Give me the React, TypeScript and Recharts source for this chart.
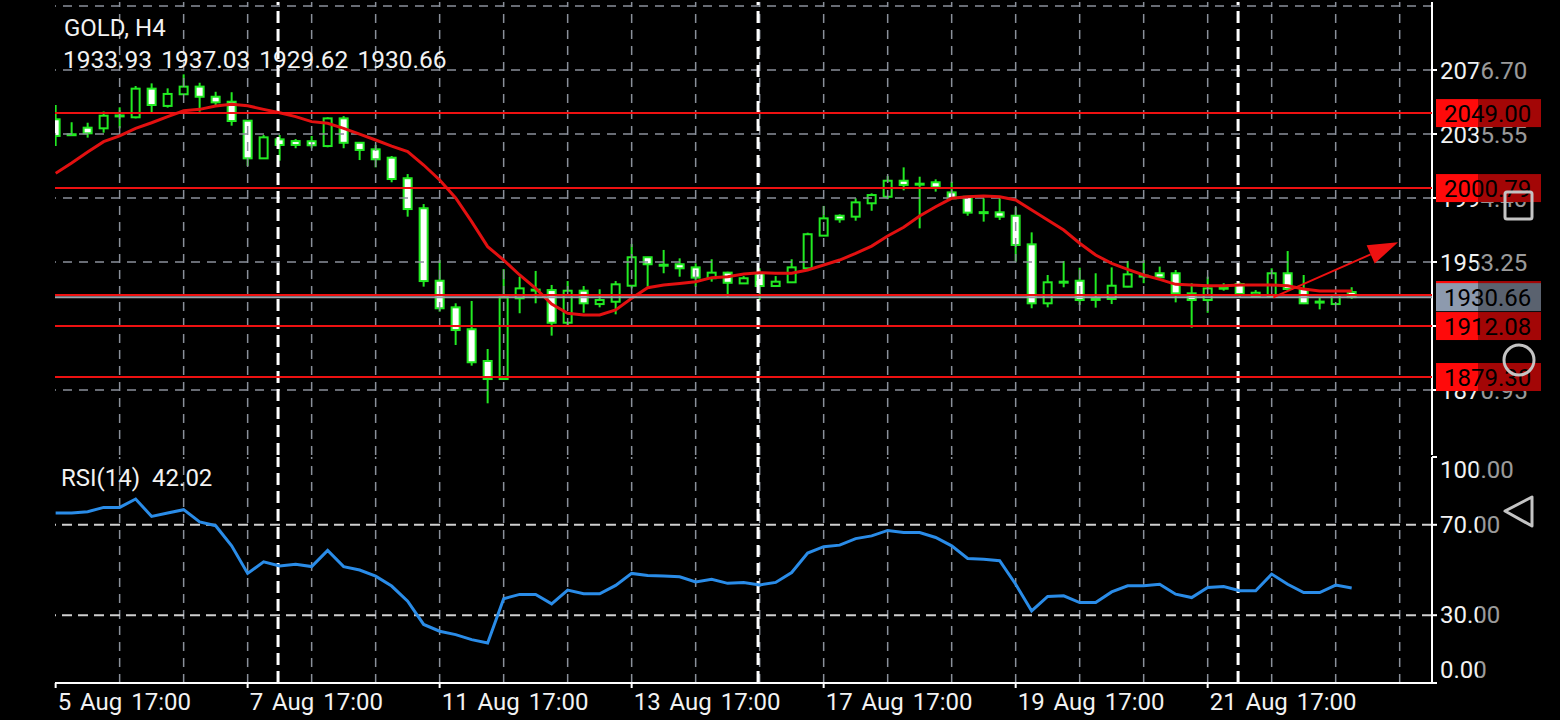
import React from 'react'
import { ComposedChart, LineChart, Line, Bar, XAxis, YAxis, ReferenceLine } from 'recharts'

// GOLD H4 candles
const open = [
  2045.0, 2035.4, 2039.6, 2039.2, 2047.5, 2046.3, 2064.7, 2053.6, 2061.1, 2066.0,
  2059.5, 2056.3, 2044.1, 2019.9, 2032.1, 2031.0, 2030.9, 2027.8, 2045.6, 2029.9,
  2025.7, 2020.3, 2007.1, 1987.8, 1941.2, 1924.1, 1910.0, 1889.6, 1878.0, 1929.9,
  1935.5, 1935.2, 1914.2, 1934.8, 1926.2, 1927.7, 1938.0, 1956.3, 1951.5, 1951.8,
  1949.8, 1942.8, 1946.4, 1939.5, 1946.0, 1937.8, 1940.2, 1949.2, 1970.2, 1983.0,
  1982.4, 1991.0, 1995.2, 2005.5, 2003.6, 2004.5, 1998.0, 1995.2, 1985.3, 1985.2,
  1983.0, 1964.6, 1926.7, 1940.3, 1941.2, 1929.3, 1929.5, 1937.4, 1944.5, 1946.0,
  1946.0, 1933.1, 1928.8, 1936.7, 1939.1, 1930.9, 1930.9, 1946.0, 1935.9, 1927.8,
  1926.2, 1933.93,
]
const high = [
  2054.2, 2043.1, 2042.8, 2050.0, 2052.7, 2066.4, 2068.1, 2064.9, 2073.9, 2068.5,
  2062.7, 2062.4, 2044.5, 2034.9, 2034.9, 2032.3, 2034.3, 2046.3, 2047.1, 2030.4,
  2028.5, 2021.4, 2009.8, 1990.5, 1954.5, 1926.7, 1928.2, 1897.3, 1948.7, 1943.8,
  1947.5, 1938.5, 1941.0, 1937.8, 1935.7, 1941.0, 1964.8, 1956.5, 1961.0, 1955.6,
  1952.4, 1955.0, 1947.0, 1944.2, 1949.2, 1944.2, 1955.0, 1972.1, 1989.3, 1983.9,
  1994.2, 1997.4, 2008.5, 2014.1, 2008.1, 2006.4, 2004.9, 1995.4, 1994.2, 1994.2,
  1988.4, 1972.3, 1944.9, 1953.9, 1949.6, 1946.0, 1949.8, 1953.9, 1954.5, 1950.3,
  1948.1, 1939.6, 1943.8, 1939.6, 1940.2, 1935.2, 1949.2, 1960.3, 1944.9, 1930.6,
  1933.1, 1937.03,
]
const low = [
  2027.8, 2034.6, 2033.2, 2036.4, 2039.2, 2045.6, 2049.2, 2052.5, 2060.6, 2049.9,
  2054.2, 2040.9, 2015.0, 2019.5, 2018.4, 2026.4, 2026.4, 2027.0, 2026.4, 2018.8,
  2014.1, 2004.5, 1982.4, 1937.4, 1921.3, 1899.9, 1886.6, 1862.4, 1877.6, 1920.3,
  1926.7, 1905.9, 1912.3, 1920.6, 1924.1, 1919.6, 1936.3, 1937.4, 1946.0, 1943.8,
  1937.4, 1940.6, 1930.9, 1939.4, 1928.8, 1937.7, 1940.0, 1949.0, 1970.0, 1978.5,
  1979.8, 1986.2, 1993.6, 1999.3, 1974.9, 1998.5, 1994.0, 1983.0, 1979.2, 1980.3,
  1953.4, 1923.5, 1924.1, 1937.0, 1925.6, 1923.9, 1926.2, 1937.0, 1939.6, 1942.7,
  1927.3, 1911.0, 1920.6, 1934.8, 1930.1, 1930.1, 1930.1, 1934.8, 1926.2, 1922.8,
  1925.6, 1929.62,
]
const close = [
  2034.3, 2035.0, 2036.0, 2047.3, 2047.0, 2064.7, 2054.2, 2061.3, 2066.0, 2059.5,
  2055.9, 2043.9, 2019.9, 2033.4, 2028.5, 2028.5, 2028.3, 2045.6, 2029.9, 2025.3,
  2019.3, 2006.6, 1987.3, 1941.0, 1923.5, 1909.5, 1888.8, 1878.0, 1930.5, 1936.3,
  1935.0, 1914.2, 1934.8, 1926.7, 1928.8, 1938.9, 1956.3, 1951.8, 1951.3, 1949.2,
  1943.2, 1946.4, 1939.9, 1942.8, 1937.8, 1940.6, 1949.8, 1971.1, 1981.3, 1980.7,
  1991.6, 1996.3, 2005.5, 2002.8, 2003.3, 2001.3, 1994.2, 1985.0, 1985.0, 1982.4,
  1964.2, 1926.7, 1940.2, 1940.6, 1928.8, 1929.5, 1938.0, 1945.3, 1944.3, 1943.4,
  1933.1, 1928.8, 1936.3, 1936.5, 1932.7, 1933.5, 1946.0, 1935.9, 1926.7, 1927.6,
  1932.0, 1930.66,
]
// red moving average
const ma = [
  2010.3, 2016.9, 2024.0, 2030.6, 2034.3, 2039.2, 2042.8, 2046.7, 2050.5, 2051.4,
  2053.6, 2054.6, 2053.7, 2051.4, 2049.2, 2046.7, 2043.5, 2042.4, 2039.2, 2035.5,
  2031.7, 2027.8, 2024.2, 2015.6, 2006.0, 1994.4, 1979.2, 1963.1, 1954.5, 1944.9,
  1936.3, 1926.2, 1920.3, 1919.2, 1919.2, 1922.4, 1929.9, 1936.7, 1938.5, 1939.5,
  1940.6, 1943.2, 1943.8, 1945.5, 1946.4, 1946.0, 1946.0, 1948.1, 1951.3, 1954.5,
  1958.8, 1963.5, 1970.0, 1975.6, 1982.8, 1988.8, 1994.2, 1995.2, 1995.7, 1995.2,
  1993.1, 1986.7, 1980.3, 1973.8, 1965.3, 1957.7, 1952.4, 1948.5, 1944.9, 1942.1,
  1938.9, 1938.5, 1938.0, 1938.0, 1938.5, 1938.5, 1938.5, 1938.0, 1935.9, 1934.6,
  1934.6, 1934.6,
]
// RSI(14)
const rsi = [
  75.2, 75.2, 75.8, 77.7, 77.7, 81.4, 73.7, 75.2, 76.7, 71.3,
  69.6, 60.7, 48.5, 53.6, 51.8, 52.5, 51.5, 58.7, 51.5, 50.0,
  47.3, 42.9, 36.2, 25.9, 22.9, 21.4, 19.2, 17.7, 37.3, 39.2,
  39.2, 35.0, 41.1, 39.5, 39.5, 43.2, 48.5, 47.6, 47.3, 47.0,
  44.7, 45.9, 44.1, 44.5, 43.4, 44.5, 48.9, 57.5, 60.3, 61.0,
  63.9, 65.1, 67.5, 66.6, 66.6, 64.4, 60.7, 55.1, 54.8, 54.1,
  43.7, 31.9, 38.3, 38.6, 35.6, 35.6, 40.3, 43.0, 43.0, 43.7,
  39.3, 37.8, 42.3, 42.7, 40.8, 40.8, 48.2, 43.7, 40.0, 40.0,
  43.3, 42.02,
]

const dateTicks = [0, 12, 24, 36, 48, 60, 72]
const dateLabels = ['5 Aug 17:00', '7 Aug 17:00', '11 Aug 17:00', '13 Aug 17:00', '17 Aug 17:00', '19 Aug 17:00', '21 Aug 17:00']
const gridIdx = [4, 8, 12, 16, 20, 24, 28, 32, 36, 40, 44, 48, 52, 56, 60, 64, 68, 72, 76, 80, 84]
const separators = [13.9, 43.9, 73.9]
const priceTicks = [2076.7, 2035.55, 1994.4, 1953.25, 1912.1, 1870.95]
const priceGrid = [2117.85, 2076.7, 2035.55, 1994.4, 1953.25, 1912.1, 1870.95]
const levels = [2049.0, 2000.79, 1932.0, 1912.08, 1879.3]
const bid = 1930.66
const rsiTicks = [0, 30, 70, 100]
const rsiLevels = [70, 30]
const trendFrom = { i: 76.1, price: 1930.5 }
const trendTo = { i: 83.9, price: 1965.9 }

const data = open.map((o, i) => ({
  i,
  open: o,
  high: high[i],
  low: low[i],
  close: close[i],
  ma: ma[i],
  rsi: rsi[i],
}))

const xDomain: [number, number] = [-0.04, 86.02]
const yDomain: [number, number] = [1829.16, 2120.42]

const GREEN = '#22ea22'
const RED = '#ee1111'
const GRID = '#8a909a'
const TEXT = '#f2f2f2'
const FONT = 'Roboto, sans-serif'

function Candle(props: any) {
  const { x, y, width, height, payload } = props
  if (x == null || !payload) return null
  const top = Math.min(y, y + height)
  const bot = Math.max(y, y + height)
  const { open: o, high: h, low: l, close: c } = payload
  const span = h - l || 1
  const py = (p: number) => top + ((h - p) / span) * (bot - top)
  const cx = x + width / 2
  const yo = py(o)
  const yc = py(c)
  const bt = Math.min(yo, yc)
  const bb = Math.max(yo, yc)
  return (
    <g>
      <line x1={cx} x2={cx} y1={top} y2={bot} stroke={GREEN} strokeWidth={2} />
      <rect
        x={cx - 4}
        y={bt}
        width={8}
        height={Math.max(bb - bt, 1)}
        fill={c < o ? '#ffffff' : '#000000'}
        stroke={GREEN}
        strokeWidth={2}
      />
    </g>
  )
}

function PriceTag({ viewBox, value, fill }: any) {
  if (!viewBox) return null
  const x = viewBox.x + viewBox.width + 4
  const y = viewBox.y
  return (
    <g>
      <rect x={x} y={y - 14} width={105} height={28} fill={fill} />
      <text x={x + 8} y={y} dy={9} fill="#000" fontSize={24} fontFamily={FONT}>
        {value.toFixed(2)}
      </text>
    </g>
  )
}

function TrendArrow(props: any) {
  const { x1, y1, x2, y2 } = props
  if (x1 == null) return null
  const ang = Math.atan2(y2 - y1, x2 - x1)
  const len = 30
  const hw = 10
  const bx = x2 - len * Math.cos(ang)
  const by = y2 - len * Math.sin(ang)
  const px = -Math.sin(ang) * hw
  const py = Math.cos(ang) * hw
  return (
    <g>
      <line x1={x1} y1={y1} x2={bx} y2={by} stroke={RED} strokeWidth={2} />
      <polygon points={`${x2},${y2} ${bx + px},${by + py} ${bx - px},${by - py}`} fill={RED} />
    </g>
  )
}

function DateTick(props: any) {
  const { x, y, payload } = props
  const label = dateLabels[dateTicks.indexOf(payload.value)]
  return (
    <text x={x + 2} y={y} dy={20} fill={TEXT} fontSize={24} fontFamily={FONT} textAnchor="start" style={{ wordSpacing: 3 }}>
      {label}
    </text>
  )
}

function RsiTick(props: any) {
  const { x, y, payload } = props
  const v = payload.value
  const shift = v === 100 ? 13 : v === 0 ? -13 : 0
  return (
    <text x={x} y={y + shift} dy={8} fill={TEXT} fontSize={24} fontFamily={FONT} textAnchor="start">
      {v.toFixed(2)}
    </text>
  )
}

const borderAxis = { stroke: '#ffffff', strokeWidth: 2 }
const mainMargin = { top: 2, right: 0, bottom: 1, left: 55 }

export default function App() {
  return (
    <div
      style={{
        position: 'absolute',
        left: 0,
        top: 0,
        width: 1560,
        height: 720,
        background: '#000',
        overflow: 'hidden',
        fontFamily: FONT,
      }}
    >
      {/* price panel */}
      <div style={{ position: 'absolute', left: 0, top: 0 }}>
        <ComposedChart width={1560} height={456} data={data} margin={mainMargin}>
          <XAxis dataKey="i" type="number" domain={xDomain} allowDataOverflow height={0} tick={false} tickLine={false} axisLine={borderAxis} />
          <XAxis xAxisId="top" orientation="top" type="number" domain={xDomain} height={0} tick={false} tickLine={false} axisLine={borderAxis} />
          <YAxis yAxisId="left" orientation="left" domain={[0, 1]} width={0} tick={false} tickLine={false} axisLine={borderAxis} />
          <YAxis
            orientation="right"
            domain={yDomain}
            allowDataOverflow
            ticks={priceTicks}
            interval={0}
            width={128}
            tickSize={5}
            tickMargin={3}
            axisLine={borderAxis}
            tickLine={{ stroke: '#ffffff', strokeWidth: 2 }}
            tick={{ fill: TEXT, fontSize: 24, fontFamily: FONT }}
            tickFormatter={(v: number) => v.toFixed(2)}
          />
          {priceGrid.map((p) => (
            <ReferenceLine key={'hg' + p} y={p} stroke={GRID} strokeWidth={1.5} strokeDasharray="9 7" />
          ))}
          {gridIdx.map((g) => (
            <ReferenceLine key={'vg' + g} x={g} stroke={GRID} strokeWidth={1.5} strokeDasharray="9 7" />
          ))}
          {separators.map((s) => (
            <ReferenceLine key={'sep' + s} x={s} stroke="#ffffff" strokeWidth={3} strokeDasharray="12 6" />
          ))}
          <Bar dataKey={(d: any) => [d.low, d.high]} barSize={10} shape={<Candle />} isAnimationActive={false} />
          <Line dataKey="ma" type="linear" stroke="#e21010" strokeWidth={3} dot={false} isAnimationActive={false} />
        </ComposedChart>
      </div>

      {/* horizontal levels, price tags and trend arrow drawn on top of the price panel */}
      <div style={{ position: 'absolute', left: 0, top: 0 }}>
        <ComposedChart width={1560} height={456} data={data} margin={mainMargin}>
          <XAxis dataKey="i" type="number" domain={xDomain} allowDataOverflow height={0} tick={false} tickLine={false} axisLine={false} />
          <YAxis orientation="right" domain={yDomain} allowDataOverflow width={128} tick={false} tickLine={false} axisLine={false} />
          {levels.map((lv) => (
            <ReferenceLine
              key={'lv' + lv}
              y={lv}
              stroke={RED}
              strokeWidth={2}
              label={{ content: (p: any) => <PriceTag viewBox={p.viewBox} value={lv} fill="#ff0a0a" /> }}
            />
          ))}
          <ReferenceLine
            y={bid}
            stroke="#9aa2ad"
            strokeWidth={2}
            label={{ content: (p: any) => <PriceTag viewBox={p.viewBox} value={bid} fill="#8d9aae" /> }}
          />
          <ReferenceLine
            segment={[
              { x: trendFrom.i, y: trendFrom.price },
              { x: trendTo.i, y: trendTo.price },
            ]}
            stroke={RED}
            shape={<TrendArrow />}
          />
        </ComposedChart>
      </div>

      {/* RSI panel */}
      <div style={{ position: 'absolute', left: 0, top: 456 }}>
        <LineChart width={1560} height={264} data={data} margin={{ top: 1, right: 0, bottom: 0, left: 55 }}>
          <XAxis
            dataKey="i"
            type="number"
            domain={xDomain}
            allowDataOverflow
            ticks={dateTicks}
            interval={0}
            height={37}
            tickSize={5}
            tickMargin={2}
            axisLine={borderAxis}
            tickLine={{ stroke: '#ffffff', strokeWidth: 2 }}
            tick={<DateTick />}
          />
          <XAxis xAxisId="top" orientation="top" type="number" domain={xDomain} height={0} tick={false} tickLine={false} axisLine={borderAxis} />
          <YAxis yAxisId="left" orientation="left" domain={[0, 1]} width={0} tick={false} tickLine={false} axisLine={borderAxis} />
          <YAxis
            orientation="right"
            domain={[0, 100]}
            ticks={rsiTicks}
            interval={0}
            width={128}
            tickSize={5}
            tickMargin={3}
            axisLine={borderAxis}
            tickLine={{ stroke: '#ffffff', strokeWidth: 2 }}
            tick={<RsiTick />}
          />
          {gridIdx.map((g) => (
            <ReferenceLine key={'rvg' + g} x={g} stroke={GRID} strokeWidth={1.5} strokeDasharray="9 7" />
          ))}
          {separators.map((s) => (
            <ReferenceLine key={'rsep' + s} x={s} stroke="#ffffff" strokeWidth={3} strokeDasharray="12 6" />
          ))}
          {rsiLevels.map((lv) => (
            <ReferenceLine key={'rl' + lv} y={lv} stroke="#cfcfcf" strokeWidth={2} strokeDasharray="10 6" />
          ))}
          <Line dataKey="rsi" type="linear" stroke="#2a8ce8" strokeWidth={3} dot={false} isAnimationActive={false} />
        </LineChart>
      </div>

      <div style={{ position: 'absolute', left: 64, top: 16, color: TEXT, fontSize: 24, lineHeight: '24px' }}>
        GOLD, H4
      </div>
      <div style={{ position: 'absolute', left: 63, top: 48, color: TEXT, fontSize: 24.5, lineHeight: '24px', wordSpacing: 3 }}>
        {open[81].toFixed(2)} {high[81].toFixed(2)} {low[81].toFixed(2)} {close[81].toFixed(2)}
      </div>
      <div style={{ position: 'absolute', left: 61, top: 466, color: TEXT, fontSize: 24, lineHeight: '24px', wordSpacing: 6 }}>
        RSI(14) {rsi[81].toFixed(2)}
      </div>

      {/* translucent system navigation bar */}
      <div style={{ position: 'absolute', left: 1478, top: 0, width: 82, height: 720, background: 'rgba(0,0,0,0.36)' }}>
        <svg width={82} height={720} style={{ position: 'absolute', left: 0, top: 0 }}>
          <rect x={27} y={192} width={27} height={27} rx={2} fill="none" stroke="#c4c4c4" strokeWidth={3} />
          <circle cx={41} cy={360} r={15} fill="none" stroke="#c4c4c4" strokeWidth={3} />
          <polygon points="27,511 54,497 54,526" fill="none" stroke="#c4c4c4" strokeWidth={3} strokeLinejoin="round" />
        </svg>
      </div>
    </div>
  )
}
